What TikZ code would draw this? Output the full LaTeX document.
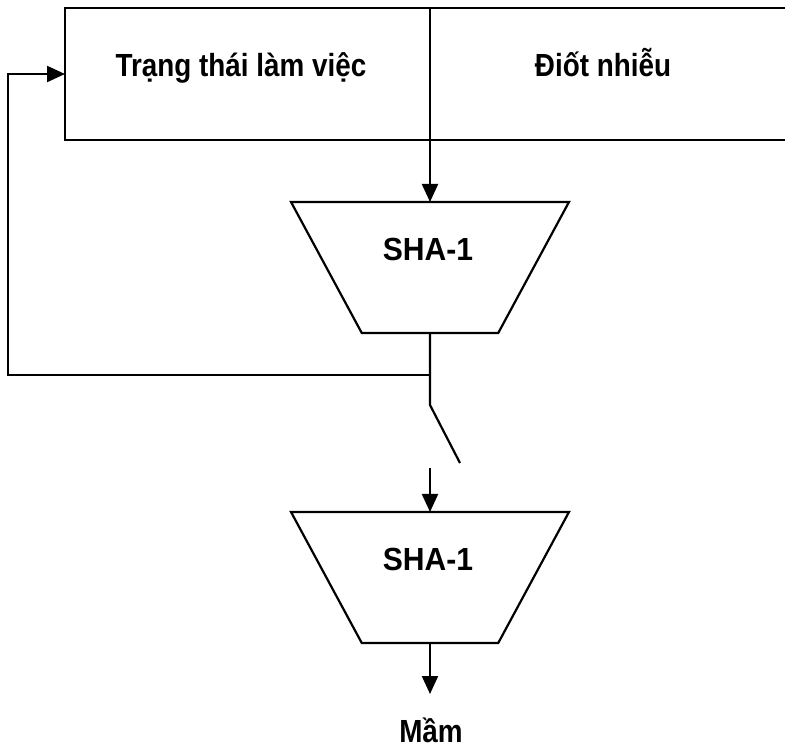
\documentclass[tikz,border=0pt]{standalone}
\usepackage{fontspec}
\setmainfont{Liberation Sans}
\newfontfamily\lblfont[FakeStretch=0.87]{Liberation Sans}
\newfontfamily\hashfont[FakeStretch=0.94]{Liberation Sans}
\usetikzlibrary{positioning, shapes.geometric, arrows.meta}

\begin{document}
\begin{tikzpicture}[x=1pt, y=-1pt]
\tikzstyle{cell} = [rectangle, draw=black, line width=2.2pt, minimum height=132pt, inner sep=0pt, outer sep=0pt]
\tikzstyle{hash} = [trapezium, draw=black, line width=2.2pt, shape border rotate=180, trapezium stretches=true, trapezium left angle=62.6, trapezium right angle=62.6, minimum width=278pt, minimum height=131pt, inner sep=3pt, outer sep=0pt]
\tikzstyle{txt}  = [font=\fontsize{32}{36}\selectfont\lblfont\bfseries, inner sep=0pt, anchor=base]
\tikzstyle{htxt} = [font=\fontsize{32}{36}\selectfont\hashfont\bfseries, inner sep=0pt, anchor=base]
\tikzstyle{wire} = [line width=2.2pt]
\tikzstyle{link} = [-{Triangle[length=18pt, width=16pt]}, line width=2.2pt]
\useasboundingbox (0,0) rectangle (785,750);
\node[cell, minimum width=365pt] at (247.5,74) (work){};
\node[cell, minimum width=366pt] at (613,74) (noise){};
\node[hash] at (430,267.5) (hash1){};
\node[hash] at (430,577.5) (hash2){};
\node[txt] at (241,76) (work_t){Trạng thái làm việc};
\node[txt] at (603,76) (noise_t){Điốt nhiễu};
\node[htxt] at (428,260) (hash1_t){SHA-1};
\node[htxt] at (428,570) (hash2_t){SHA-1};
\node[txt] at (431,742) (seed){Mầm};
\coordinate (tap) at (430,375);
\coordinate (back) at (8,375);
\coordinate (pivot) at (430,405);
\coordinate (swing) at (460,463);
\coordinate (feed) at (430,468);
\coordinate (tip) at (430,694);
\draw[link] (work.south east) -- (hash1.north);
\draw[wire] (hash1.south) -- (tap) -- (pivot) -- (swing);
\draw[link] (tap) -- (back) |- (work.west);
\draw[link] (feed) -- (hash2.north);
\draw[link] (hash2.south) -- (tip);
\end{tikzpicture}
\end{document}
